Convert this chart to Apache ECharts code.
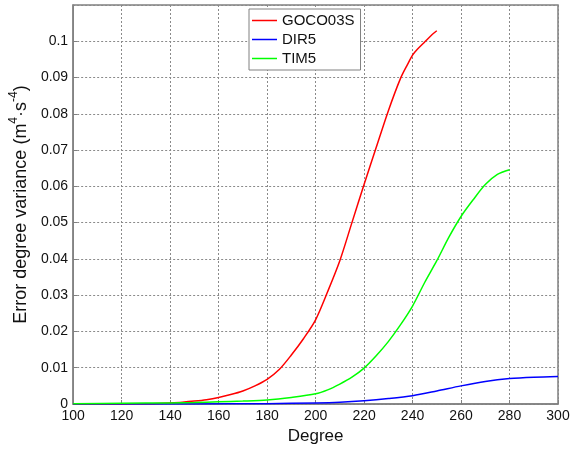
<!DOCTYPE html>
<html>
<head>
<meta charset="utf-8">
<script src="https://cdn.jsdelivr.net/npm/echarts@6/dist/echarts.min.js"></script>
<style>html,body{margin:0;padding:0;background:#fff}#c{width:574px;height:450px}</style>
</head>
<body>
<div id="c"></div>
<script>
// Axis settings
const xMin = 100, xMax = 300, xStep = 20;
const yMin = 0, yMax = 0.11, yStep = 0.01;

// GOCO03S (red)
const gocoDeg = [100,110,120,130,135,140,145,150,155,160,165,170,175,180,185,190,195,200,205,210,215,220,225,230,235,238,240,242,245,248,250];
const gocoVal = [0,0.00001,0.00003,0.00008,0.00015,0.0003,0.0005,0.0008,0.0012,0.0018,0.0026,0.0036,0.005,0.0068,0.0095,0.0135,0.018,0.0232,0.031,0.0395,0.050,0.0605,0.0707,0.0808,0.0897,0.0937,0.0962,0.0978,0.0998,0.1018,0.1029];

// DIR5 (blue)
const dirDeg = [100,150,180,200,210,220,230,240,250,260,270,280,290,300];
const dirVal = [0,0.00003,0.0001,0.0003,0.0005,0.0009,0.0015,0.0023,0.0036,0.005,0.0062,0.007,0.0074,0.0076];

// TIM5 (green)
const timDeg = [100,120,140,150,160,170,180,190,200,205,210,215,220,225,230,235,240,245,250,255,260,265,270,275,280];
const timVal = [0.0001,0.0002,0.0003,0.0004,0.0006,0.0008,0.0011,0.0018,0.0028,0.0039,0.0055,0.0074,0.0099,0.0133,0.0172,0.0218,0.027,0.0335,0.0395,0.046,0.0517,0.0563,0.0605,0.0633,0.0646];

const seriesNames = ['GOCO03S','DIR5','TIM5'];
const seriesColors = ['#ff0000','#0000ff','#00ff00'];

const pairs = (xs, ys) => xs.map((x, i) => [x, ys[i]]);
const datasets = [pairs(gocoDeg, gocoVal), pairs(dirDeg, dirVal), pairs(timDeg, timVal)];

const chart = echarts.init(document.getElementById('c'), null, {renderer: 'canvas'});
const font = 'Liberation Sans, Arial, sans-serif';
chart.setOption({
  animation: false,
  backgroundColor: '#fff',
  textStyle: {fontFamily: font},
  grid: {left: 70, right: 16, top: 5, bottom: 46, show: true, borderColor: '#808080', borderWidth: 1.5, backgroundColor: 'transparent'},
  legend: {
    orient: 'vertical', left: 249, top: 9,
    data: seriesNames.map(n => ({name: n, icon: 'rect'})),
    itemWidth: 25, itemHeight: 1.5, itemGap: 4,
    padding: [4, 6, 4, 3],
    borderColor: '#808080', borderWidth: 1, backgroundColor: '#fff',
    textStyle: {fontSize: 15, lineHeight: 15, color: '#111', fontFamily: font}
  },
  xAxis: {
    type: 'value', min: xMin, max: xMax, interval: xStep,
    name: 'Degree', nameLocation: 'middle', nameGap: 24,
    nameTextStyle: {fontSize: 17, color: '#111', fontFamily: font},
    axisLine: {show: true, lineStyle: {color: '#808080', width: 1.5}},
    axisTick: {show: true, inside: true, length: 4, lineStyle: {color: '#808080'}},
    axisLabel: {fontSize: 14, color: '#111', margin: 5, fontFamily: font},
    splitLine: {show: true, lineStyle: {color: '#8a8a8a', type: [2, 2], width: 1}}
  },
  yAxis: {
    type: 'value', min: yMin, max: yMax, interval: yStep,
    name: '{a|Error degree variance (m}{s|4}{a|·s}{s|-4}{a|)}',
    nameLocation: 'middle', nameGap: 42, nameRotate: 90,
    nameTextStyle: {
      fontSize: 18, color: '#111', fontFamily: font,
      rich: {
        a: {fontSize: 18, color: '#111', fontFamily: font, lineHeight: 22, verticalAlign: 'bottom'},
        s: {fontSize: 12, color: '#111', fontFamily: font, lineHeight: 22, verticalAlign: 'top'}
      }
    },
    axisLine: {show: true, lineStyle: {color: '#808080', width: 1.5}},
    axisTick: {show: true, inside: true, length: 4, lineStyle: {color: '#808080'}},
    axisLabel: {
      fontSize: 14, color: '#111', margin: 5, fontFamily: font, showMaxLabel: false,
      formatter: v => (Math.abs(v - yMax) < 1e-9 ? '' : String(+v.toFixed(2)))
    },
    splitLine: {show: true, lineStyle: {color: '#8a8a8a', type: [2, 2], width: 1}}
  },
  series: seriesNames.map((n, i) => ({
    name: n, type: 'line', data: datasets[i], symbol: 'none', smooth: 0.3,
    lineStyle: {color: seriesColors[i], width: 1.5},
    itemStyle: {color: seriesColors[i]}, z: 3
  }))
});
</script>
</body>
</html>
